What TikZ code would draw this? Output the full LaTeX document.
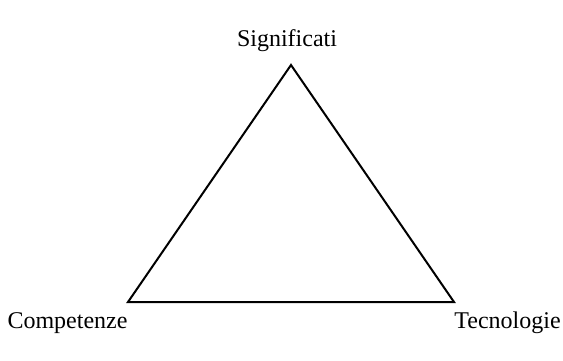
\documentclass[tikz,border=0pt]{standalone}
\usepackage{fontspec}
\setmainfont{Liberation Serif}
\begin{document}
\begin{tikzpicture}[x=1pt,y=-1pt,
  lbl/.style={font=\fontsize{24}{28}\selectfont, inner sep=0pt, anchor=base},
  edge/.style={draw=black, line width=2pt, line join=miter}]
\useasboundingbox (0,0) rectangle (563,360);
\coordinate (S) at (291,65);
\coordinate (C) at (128,302);
\coordinate (T) at (454,302);
\draw[edge] (S) -- (C) -- (T) -- cycle;
\node[lbl] (ls) at (287,46) {Significati};
\node[lbl] (lc) at (67.5,328) {Competenze};
\node[lbl] (lt) at (507.5,328) {Tecnologie};
\end{tikzpicture}
\end{document}
